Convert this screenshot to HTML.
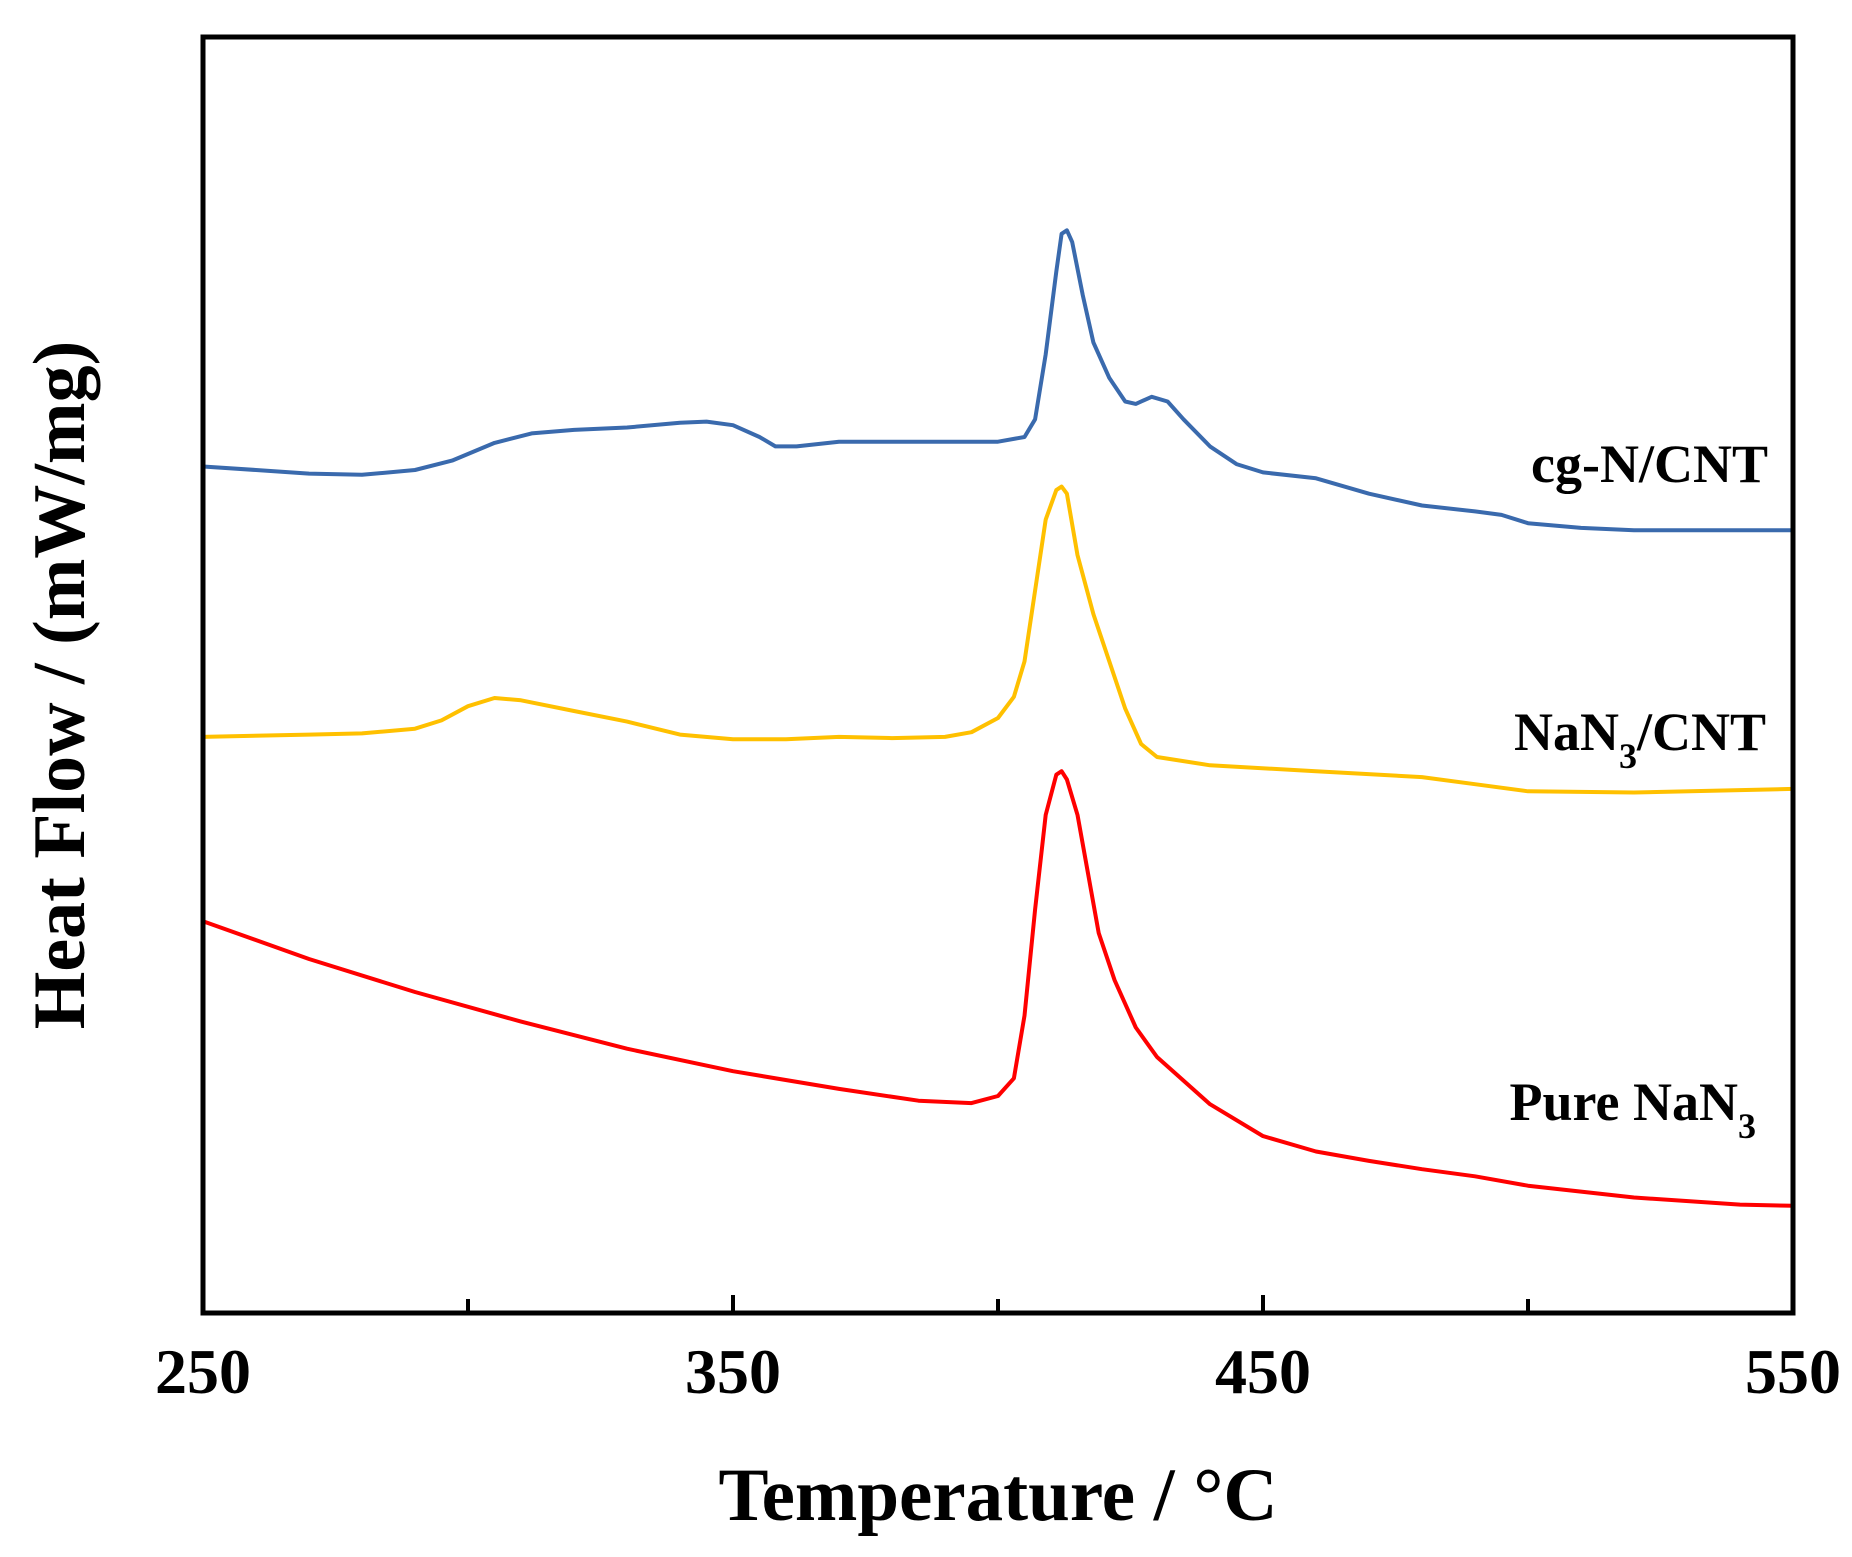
<!DOCTYPE html>
<html><head><meta charset="utf-8"><style>
html,body{margin:0;padding:0;background:#fff;}
svg{display:block;font-family:"Liberation Serif",serif;font-weight:bold;}
</style></head><body>
<svg id="chart" width="1852" height="1557" viewBox="0 0 1852 1557" xmlns="http://www.w3.org/2000/svg">
<g id="plot"></g>
<rect x="203" y="37" width="1590" height="1276" fill="none" stroke="#000" stroke-width="5"/>
<g id="ticks"></g>
<text x="998" y="1520" font-size="75" text-anchor="middle">Temperature / °C</text>
<text transform="translate(84,685) rotate(-90)" font-size="74" text-anchor="middle">Heat Flow / (mW/mg)</text>
<text x="1768" y="482" font-size="54" text-anchor="end">cg-N/CNT</text>
<text x="1766" y="750" font-size="54" text-anchor="end">NaN<tspan font-size="36" dy="18">3</tspan><tspan dy="-18">/CNT</tspan></text>
<text x="1756" y="1120" font-size="54" text-anchor="end">Pure NaN<tspan font-size="36" dy="18">3</tspan></text>
</svg>
<script>
const xTicks=[250,300,350,400,450,500,550];
const xLabels=[250,350,450,550];
const blueT=[250,260,270,280,290,297,305,312,320,330,340,345,350,355,358,362,370,380,390,400,405,407,409,411,412,413,414,416,418,421,424,426,429,432,435,440,445,450,460,470,480,490,495,500,510,520,530,550];
const blueV=[395,398,401,402,398,390,375,367,364,362,358,357,360,370,378,378,374,374,374,374,370,355,300,230,198,195,205,250,290,320,340,342,336,340,355,378,393,400,405,418,428,433,436,443,447,449,449,449];
const yellowT=[250,270,280,290,295,300,305,310,320,330,340,350,360,370,380,390,395,400,403,405,407,409,411,412,413,415,418,421,424,427,430,440,460,480,490,500,520,550];
const yellowV=[624,622,621,617,610,598,591,593,602,611,622,626,626,624,625,624,620,608,590,560,500,440,415,412,418,470,520,560,600,630,641,648,653,658,664,670,671,668];
const redT=[250,270,290,310,330,350,370,385,395,400,403,405,407,409,411,412,413,415,417,419,422,426,430,440,450,460,470,480,490,500,520,540,550];
const redV=[780,812,840,865,888,907,922,932,934,928,913,860,770,690,656,653,660,690,740,790,830,870,895,935,962,975,983,990,996,1004,1014,1020,1021];
const NS="http://www.w3.org/2000/svg";
const X0=203,X1=1793;
function xs(t){return X0+(t-250)/(550-250)*(X1-X0);}
function ys(v){return v*1.181;}
const plot=document.getElementById('plot');
function series(T,V,color,name){
  const p=document.createElementNS(NS,'path');
  p.setAttribute('d',T.map((t,i)=>(i?'L':'M')+xs(t).toFixed(1)+','+ys(V[i]).toFixed(1)).join(''));
  p.setAttribute('fill','none');p.setAttribute('stroke',color);p.setAttribute('stroke-width','4');p.setAttribute('stroke-linejoin','round');
  
  
  plot.appendChild(p);
}
series(blueT,blueV,'#3a6aad','cg-n-cnt-line');
series(yellowT,yellowV,'#ffc000','nan3-cnt-line');
series(redT,redV,'#ff0000','pure-nan3-line');
const tk=document.getElementById('ticks');
xTicks.forEach(t=>{
  const l=document.createElementNS(NS,'line');
  const len=xLabels.includes(t)?18:14;
  l.setAttribute('x1',xs(t));l.setAttribute('x2',xs(t));l.setAttribute('y1',1313);l.setAttribute('y2',1313-len);
  l.setAttribute('stroke','#000');l.setAttribute('stroke-width','4');
  
  
  tk.appendChild(l);
});
xLabels.forEach(t=>{
  const tx=document.createElementNS(NS,'text');
  tx.setAttribute('x',xs(t));tx.setAttribute('y',1393);tx.setAttribute('font-size','64');tx.setAttribute('text-anchor','middle');
  tx.textContent=t;
  
  
  tk.appendChild(tx);
});
</script>
</body></html>
